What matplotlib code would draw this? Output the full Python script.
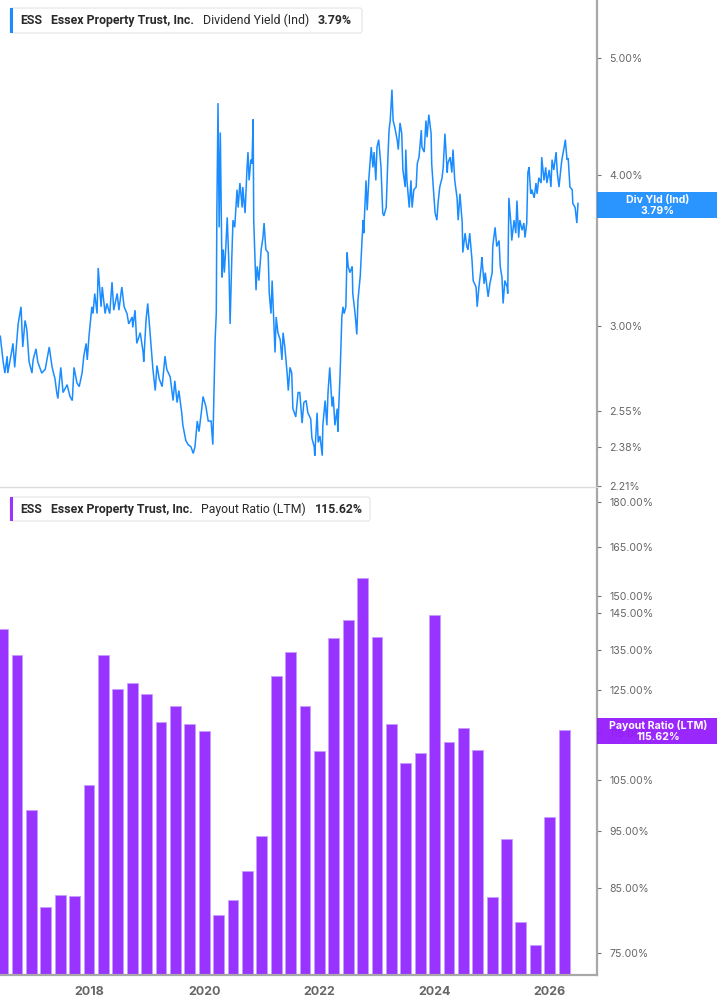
import matplotlib
matplotlib.use("Agg")
import matplotlib.pyplot as plt
from matplotlib.patches import FancyBboxPatch, Rectangle
import matplotlib.ticker as mticker
import numpy as np
import pandas as pd

plt.rcParams['font.family'] = ['Inter', 'DejaVu Sans']

# ---------------- data ----------------
yield_dates = [
    2016.46, 2016.51, 2016.54, 2016.58, 2016.59, 2016.66, 2016.68, 2016.71, 2016.77, 2016.82,
    2016.85, 2016.89, 2016.92, 2016.96, 2017.01, 2017.03, 2017.08, 2017.11, 2017.18, 2017.24,
    2017.31, 2017.36, 2017.41, 2017.44, 2017.46, 2017.51, 2017.55, 2017.62, 2017.67, 2017.71,
    2017.74, 2017.79, 2017.83, 2017.88, 2017.91, 2017.95, 2017.97, 2018.00, 2018.05, 2018.07,
    2018.10, 2018.14, 2018.16, 2018.21, 2018.23, 2018.28, 2018.31, 2018.36, 2018.40, 2018.43,
    2018.49, 2018.52, 2018.57, 2018.61, 2018.66, 2018.69, 2018.75, 2018.76, 2018.80, 2018.83,
    2018.89, 2018.94, 2018.95, 2018.99, 2019.02, 2019.06, 2019.11, 2019.15, 2019.18, 2019.22,
    2019.27, 2019.32, 2019.35, 2019.41, 2019.46, 2019.49, 2019.53, 2019.56, 2019.61, 2019.63,
    2019.68, 2019.72, 2019.77, 2019.81, 2019.84, 2019.88, 2019.91, 2019.95, 2019.98, 2020.03,
    2020.07, 2020.12, 2020.15, 2020.19, 2020.21, 2020.22, 2020.24, 2020.26, 2020.28, 2020.31,
    2020.33, 2020.35, 2020.38, 2020.40, 2020.43, 2020.45, 2020.48, 2020.50, 2020.53, 2020.57,
    2020.59, 2020.62, 2020.66, 2020.67, 2020.71, 2020.74, 2020.76, 2020.78, 2020.81, 2020.83,
    2020.85, 2020.86, 2020.90, 2020.92, 2020.95, 2020.99, 2021.02, 2021.04, 2021.07, 2021.11,
    2021.13, 2021.16, 2021.18, 2021.20, 2021.23, 2021.25, 2021.28, 2021.32, 2021.35, 2021.37,
    2021.40, 2021.44, 2021.46, 2021.49, 2021.52, 2021.54, 2021.59, 2021.63,
    2021.66, 2021.70, 2021.73, 2021.77, 2021.80, 2021.85, 2021.87, 2021.91, 2021.92, 2021.96,
    2021.98, 2022.01, 2022.05, 2022.06, 2022.10, 2022.13, 2022.15, 2022.18, 2022.22, 2022.24,
    2022.27, 2022.31, 2022.32, 2022.36, 2022.39, 2022.41, 2022.43, 2022.46, 2022.48, 2022.50,
    2022.53, 2022.57, 2022.58, 2022.62, 2022.65, 2022.67, 2022.71, 2022.74, 2022.76, 2022.77,
    2022.81, 2022.83, 2022.86, 2022.90, 2022.93, 2022.95, 2022.98, 2023.00, 2023.03, 2023.07,
    2023.10, 2023.12, 2023.16, 2023.19, 2023.21, 2023.23, 2023.26, 2023.28, 2023.31, 2023.35,
    2023.37, 2023.40, 2023.43, 2023.45, 2023.49, 2023.50, 2023.52, 2023.56, 2023.59, 2023.61,
    2023.64, 2023.68, 2023.70, 2023.73, 2023.77, 2023.78, 2023.82, 2023.85, 2023.87, 2023.90,
    2023.94, 2023.95, 2023.99, 2024.01, 2024.04, 2024.06, 2024.09, 2024.13, 2024.15, 2024.18,
    2024.22, 2024.23, 2024.27, 2024.30, 2024.32, 2024.35, 2024.39, 2024.41, 2024.44, 2024.48,
    2024.49, 2024.53, 2024.56, 2024.58, 2024.61, 2024.65, 2024.67, 2024.72, 2024.74, 2024.77,
    2024.81, 2024.82, 2024.86, 2024.88, 2024.91, 2024.93, 2024.96, 2025.00, 2025.01, 2025.05,
    2025.08, 2025.12, 2025.14, 2025.17, 2025.19, 2025.22, 2025.26, 2025.27, 2025.29, 2025.33,
    2025.34, 2025.38, 2025.41, 2025.43, 2025.46, 2025.48, 2025.52, 2025.55, 2025.57, 2025.60,
    2025.62, 2025.64, 2025.67, 2025.69, 2025.73, 2025.76, 2025.78, 2025.81, 2025.85, 2025.86,
    2025.90, 2025.93, 2025.95, 2025.99, 2026.02, 2026.04, 2026.07, 2026.11, 2026.13, 2026.16,
    2026.19, 2026.21, 2026.25, 2026.27, 2026.30, 2026.32, 2026.35, 2026.39, 2026.40, 2026.44,
    2026.47, 2026.49,
]
yield_values = [
    2.94, 2.80, 2.74, 2.83, 2.74, 2.86, 2.90, 2.77, 3.01, 3.11,
    2.88, 3.03, 2.98, 2.80, 2.74, 2.81, 2.87, 2.80, 2.74, 2.76,
    2.88, 2.77, 2.71, 2.64, 2.61, 2.77, 2.64, 2.68, 2.62, 2.60,
    2.77, 2.69, 2.67, 2.74, 2.83, 2.90, 2.81, 2.94, 3.11, 3.07,
    3.19, 3.07, 3.35, 3.11, 3.23, 3.07, 3.13, 3.07, 3.26, 3.09,
    3.19, 3.09, 3.23, 3.11, 3.07, 3.01, 3.05, 2.99, 3.09, 2.90,
    2.96, 2.85, 2.80, 3.03, 3.13, 2.96, 2.76, 2.65, 2.78, 2.71,
    2.67, 2.83, 2.76, 2.72, 2.60, 2.70, 2.59, 2.65, 2.54, 2.48,
    2.41, 2.39, 2.38, 2.35, 2.38, 2.50, 2.45, 2.54, 2.62, 2.57,
    2.50, 2.50, 2.39, 2.92, 3.07, 3.72, 4.59, 3.62, 4.34, 3.29,
    3.47, 3.32, 3.52, 3.69, 3.36, 3.01, 3.42, 3.67, 3.62, 3.89,
    3.76, 3.94, 3.76, 3.91, 3.72, 4.02, 4.18, 3.96, 4.12, 4.09,
    4.45, 3.67, 3.21, 3.36, 3.27, 3.47, 3.55, 3.65, 3.47, 3.45,
    3.19, 3.07, 3.27, 3.09, 2.85, 3.05, 2.96, 2.92, 2.81, 2.96,
    2.88, 2.74, 2.65, 2.77, 2.74, 2.56, 2.52, 2.64,
    2.64, 2.49, 2.59, 2.60, 2.54, 2.51, 2.42, 2.38, 2.34, 2.54,
    2.40, 2.43, 2.34, 2.48, 2.60, 2.48, 2.64, 2.77, 2.57, 2.62,
    2.48, 2.56, 2.45, 2.74, 3.05, 3.11, 3.07, 3.11, 3.45, 3.36,
    3.32, 3.36, 3.19, 3.07, 2.95, 3.15, 3.30, 3.53, 3.67, 3.58,
    3.96, 3.74, 3.98, 4.22, 4.06, 4.18, 3.96, 4.22, 4.28, 4.06,
    3.72, 3.70, 3.76, 4.14, 4.36, 4.44, 4.71, 4.44, 4.38, 4.28,
    4.20, 4.42, 4.33, 4.04, 3.91, 4.20, 3.96, 3.76, 3.96, 3.76,
    3.89, 3.91, 4.09, 4.14, 4.36, 4.22, 4.18, 4.44, 4.30, 4.49,
    4.33, 4.09, 3.83, 3.72, 3.67, 3.79, 3.91, 3.98, 4.06, 4.33,
    4.02, 4.09, 4.14, 4.02, 4.20, 3.96, 3.83, 3.67, 3.86, 3.65,
    3.45, 3.58, 3.49, 3.47, 3.58, 3.40, 3.27, 3.23, 3.11, 3.23,
    3.36, 3.42, 3.25, 3.32, 3.23, 3.17, 3.25, 3.32, 3.49, 3.62,
    3.49, 3.53, 3.36, 3.29, 3.13, 3.27, 3.23, 3.19, 3.83, 3.62,
    3.53, 3.67, 3.58, 3.81, 3.55, 3.67, 3.60, 3.65, 3.55, 3.65,
    4.02, 4.06, 3.86, 3.89, 3.83, 3.94, 3.86, 3.98, 3.94, 4.14,
    3.96, 4.06, 3.94, 4.04, 3.91, 4.12, 4.04, 4.18, 4.02, 3.91,
    4.04, 4.12, 4.22, 4.28, 4.12, 4.13, 3.91, 3.89, 3.79, 3.76,
    3.65, 3.79,
]

payout_first_quarter = "2016Q2"
payout_values = [
    140.6, 133.7, 99.0, 82.0, 83.9, 83.7, 104.0, 133.7, 125.2, 126.7,
    124.0, 117.4, 121.1, 117.0, 115.5, 80.8, 83.1, 87.9, 94.1, 128.3,
    134.6, 121.1, 111.0, 138.3, 143.2, 155.4, 138.5, 116.9, 108.4, 110.5,
    144.5, 112.9, 116.1, 111.2, 83.6, 93.6, 79.6, 76.2, 97.6, 115.62,
]

yield_ticks = [2.21, 2.38, 2.55, 3.00, 4.00, 5.00]
payout_ticks = [75, 85, 95, 105, 115, 125, 135, 145, 150, 165, 180]
year_ticks = [2018, 2020, 2022, 2024, 2026]

ticker_sym = "ESS"
company = "Essex Property Trust, Inc."
yield_name = "Dividend Yield (Ind)"
yield_last = "3.79%"
payout_name = "Payout Ratio (LTM)"
payout_last = "115.62%"

# ---------------- styling ----------------
BLUE = "#1a8cff"
PURPLE = "#9933ff"
TAG_PURPLE = "#9317fd"
SPINE = "#a8a8a8"
TICKC = "#666666"
TXT = "#2a2a2a"
LEGEND_FONT = ['Roboto', 'DejaVu Sans']

W, H = 717, 1005
fig = plt.figure(figsize=(W / 100, H / 100), dpi=100)


def fx(px):
    return px / W


def fy(py):
    return 1 - py / H


xlim = (2016.455, 2026.82)

ax1 = fig.add_axes([0, fy(487), fx(597), 487 / H])
ax2 = fig.add_axes([0, fy(975), fx(597), (975 - 489) / H])

# top: dividend yield line
ax1.plot(yield_dates, yield_values, color=BLUE, lw=1.1, solid_joinstyle="miter")
ax1.set_yscale("log")
ax1.set_ylim(2.204, 5.59)
ax1.set_xlim(*xlim)

# bottom: payout ratio bars
periods = pd.period_range(payout_first_quarter, periods=len(payout_values), freq="Q")
bar_pos = np.array([p.year + p.quarter / 4.0 for p in periods])
ymin2, ymax2 = 71.85, 184.6
ax2.set_yscale("log")
ax2.bar(bar_pos, np.array(payout_values) - ymin2, bottom=ymin2, width=0.19,
        color=PURPLE, edgecolor="#c79cff", linewidth=0.6, zorder=2)
ax2.set_ylim(ymin2, ymax2)
ax2.set_xlim(*xlim)

pct = mticker.FuncFormatter(lambda v, p: f"{v:.2f}%")
for ax, ticks in ((ax1, yield_ticks), (ax2, payout_ticks)):
    ax.yaxis.tick_right()
    ax.yaxis.set_minor_locator(mticker.NullLocator())
    ax.set_yticks(ticks)
    ax.yaxis.set_major_formatter(pct)
    ax.tick_params(axis="y", direction="out", length=3, width=0.8, color="#777777",
                   labelcolor=TICKC, labelsize=7.6, pad=6)
    ax.spines["left"].set_visible(False)
    ax.spines["top"].set_visible(False)
    ax.spines["right"].set_color(SPINE)
    ax.spines["right"].set_linewidth(1.6)
    ax.set_facecolor("none")

ax1.set_xticks([])
ax1.spines["bottom"].set_color("#dcdcdc")
ax1.spines["bottom"].set_linewidth(1.0)

ax2.set_xticks(year_ticks)
ax2.set_xticklabels([str(y) for y in year_ticks])
ax2.xaxis.set_minor_locator(mticker.NullLocator())
ax2.tick_params(axis="x", length=0, labelsize=9, labelcolor=TICKC, pad=8)
for lbl in ax2.get_xticklabels():
    lbl.set_fontweight("bold")
ax2.spines["bottom"].set_color(SPINE)
ax2.spines["bottom"].set_linewidth(1.6)

renderer = fig.canvas.get_renderer()


# ---------------- legends ----------------
def legend_box(y0, y1, x1, color, pieces, x_end):
    box = FancyBboxPatch((fx(10), fy(y1)), fx(x1 - 10), (y1 - y0) / H,
                         boxstyle="round,pad=0,rounding_size=0.003",
                         transform=fig.transFigure, fc="white", ec="#e4e4e4", lw=0.8,
                         zorder=5)
    fig.add_artist(box)
    fig.add_artist(Rectangle((fx(10), fy(y1)), fx(3), (y1 - y0) / H,
                             transform=fig.transFigure, fc=color, ec="none", zorder=6))
    yc = fy((y0 + y1) / 2)
    gap = 8.5
    x_start = 20.7
    base = 9.0
    texts = [fig.text(0, yc, t, fontsize=base, fontweight=w, color=TXT, family=LEGEND_FONT,
                      va="center", ha="left", zorder=7) for t, w in pieces]
    widths = [t.get_window_extent(renderer).width for t in texts]
    scale = (x_end - x_start - gap * (len(texts) - 1)) / sum(widths)
    size = base * scale
    x = x_start
    for t in texts:
        t.set_fontsize(size)
        t.set_x(fx(x))
        x += t.get_window_extent(renderer).width + gap


legend_box(8, 33, 362, BLUE, [(ticker_sym, "bold"), (company, "bold"),
                              (yield_name, "normal"), (yield_last, "bold")], 354)
legend_box(497, 521, 370, PURPLE, [(ticker_sym, "bold"), (company, "bold"),
                                   (payout_name, "normal"), (payout_last, "bold")], 364)


# ---------------- right-side value tags ----------------
def value_tag(y0, y1, color, line1, line2):
    fig.add_artist(Rectangle((fx(597), fy(y1)), fx(120), (y1 - y0) / H,
                             transform=fig.transFigure, fc=color, ec="none", alpha=0.93,
                             zorder=8))
    fig.text(fx(658), fy(y0 + 7.5), line1, fontsize=7.6, fontweight="bold", color="white",
             ha="center", va="center", zorder=9)
    fig.text(fx(658), fy(y0 + 18.5), line2, fontsize=7.6, fontweight="bold", color="white",
             ha="center", va="center", zorder=9)


value_tag(192, 218, BLUE, "Div Yld (Ind)", yield_last)
value_tag(718, 744, TAG_PURPLE, payout_name, payout_last)

fig.savefig("out.png", dpi=100, facecolor="white")
